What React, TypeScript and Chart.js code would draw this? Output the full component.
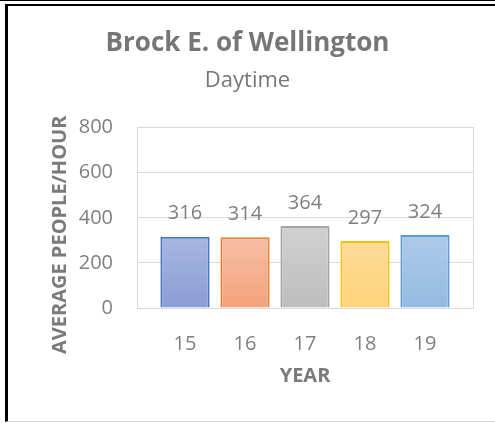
import React, { useEffect, useRef } from "react";
import { Chart, registerables } from "chart.js";

Chart.register(...registerables);

const TITLE = "Brock E. of Wellington";
const SUBTITLE = "Daytime";
const YEARS = ["15", "16", "17", "18", "19"];
const VALUES = [316, 314, 364, 297, 324];
const BORDER_COLORS = ["#4472C4", "#ED7D31", "#A5A5A5", "#FFC000", "#5B9BD5"];
const FILL_TOP = ["#A7B6E1", "#F6BEA4", "#D1D1D1", "#FFDB97", "#AECAE9"];
const FILL_BOTTOM = ["#8A9ED6", "#F4A27C", "#BDBDBD", "#FFD37A", "#95BAE2"];
const Y_TICKS = [0, 200, 400, 600, 800];
const Y_TITLE = "AVERAGE PEOPLE/HOUR";
const X_TITLE = "YEAR";

const FONT = "'Open Sans', sans-serif";
const TEXT = "#7F7F7F";
const TITLE_COLOR = "#767676";
const GRID = "#D9D9D9";

const dataLabels = {
  id: "dataLabels",
  afterDatasetsDraw(chart: any) {
    const ctx = chart.ctx;
    const meta = chart.getDatasetMeta(0);
    ctx.save();
    ctx.font = `20px ${FONT}`;
    ctx.fillStyle = TEXT;
    ctx.textAlign = "center";
    ctx.textBaseline = "middle";
    meta.data.forEach((el: any, i: number) => {
      ctx.fillText(String(VALUES[i]), el.x, el.y - 23);
    });
    ctx.restore();
  },
};

const yTitle = {
  id: "yTitle",
  afterDraw(chart: any) {
    const ctx = chart.ctx;
    const area = chart.chartArea;
    ctx.save();
    ctx.font = `bold 20px ${FONT}`;
    ctx.fillStyle = "#7A7A7A";
    ctx.textAlign = "center";
    ctx.textBaseline = "middle";
    ctx.translate(area.left - 77, (area.top + area.bottom) / 2 + 17);
    ctx.rotate(-Math.PI / 2);
    ctx.fillText(Y_TITLE, 0, 0);
    ctx.restore();
  },
};

export default function App() {
  const ref = useRef<HTMLCanvasElement | null>(null);

  useEffect(() => {
    if (!ref.current) return;
    const chart = new Chart(ref.current, {
      type: "bar",
      data: {
        datasets: [
          {
            data: VALUES.map((v, i) => ({ x: i, y: v })),
            borderColor: BORDER_COLORS,
            borderWidth: 2,
            borderSkipped: "bottom",
            barPercentage: 0.82,
            categoryPercentage: 1,
            backgroundColor: (c: any) => {
              const chart = c.chart;
              const i = c.dataIndex;
              const area = chart.chartArea;
              if (!area || i === undefined) return FILL_BOTTOM[i || 0];
              const yTop = chart.scales.y.getPixelForValue(VALUES[i]);
              const g = chart.ctx.createLinearGradient(0, yTop, 0, area.bottom);
              g.addColorStop(0, FILL_TOP[i]);
              g.addColorStop(1, FILL_BOTTOM[i]);
              return g;
            },
          },
        ],
      },
      options: {
        animation: false,
        responsive: false,
        maintainAspectRatio: false,
        layout: { padding: { top: 0, left: 0, right: 0, bottom: 0 } },
        plugins: {
          legend: { display: false },
          tooltip: { enabled: false },
          title: {
            display: true,
            text: TITLE,
            color: TITLE_COLOR,
            font: { family: FONT, size: 26, weight: "bold" },
            padding: { top: 28, bottom: 0 },
          },
          subtitle: {
            display: true,
            text: SUBTITLE,
            color: TITLE_COLOR,
            font: { family: FONT, size: 22 },
            padding: { top: 8, bottom: 34 },
          },
        },
        scales: {
          x: {
            type: "linear",
            offset: false,
            min: -0.8,
            max: 4.8,
            afterBuildTicks: (axis: any) => {
              axis.ticks = YEARS.map((_, i) => ({ value: i }));
            },
            afterFit: (axis: any) => {
              axis.height = 115;
            },
            grid: { display: false, drawTicks: false },
            border: { display: false },
            ticks: {
              color: TEXT,
              font: { family: FONT, size: 20 },
              padding: 24,
              autoSkip: false,
              maxRotation: 0,
              callback: (v: any) => YEARS[v] ?? "",
            },
            title: {
              display: true,
              text: X_TITLE,
              color: "#7A7A7A",
              font: { family: FONT, size: 20, weight: "bold" },
              padding: { top: 0, bottom: 35 },
            },
          },
          y: {
            min: 0,
            max: 800,
            afterBuildTicks: (axis: any) => {
              axis.ticks = Y_TICKS.map((v) => ({ value: v }));
            },
            afterFit: (axis: any) => {
              axis.width = 137;
            },
            grid: { color: GRID, lineWidth: 1, drawTicks: false },
            border: { display: true, color: GRID, width: 1 },
            ticks: {
              color: TEXT,
              font: { family: FONT, size: 20 },
              padding: 24,
            },
          },
          y2: {
            position: "right",
            min: 0,
            max: 800,
            afterFit: (axis: any) => {
              axis.width = 22;
            },
            grid: { display: false, drawTicks: false },
            border: { display: true, color: GRID, width: 1 },
            ticks: { display: false },
          },
        },
      },
      plugins: [dataLabels, yTitle],
    });
    return () => chart.destroy();
  }, []);

  return (
    <div
      style={{
        position: "fixed",
        left: 0,
        top: 0,
        width: 495,
        height: 423,
        overflow: "hidden",
        background: "#fff",
      }}
    >
      <div
        style={{
          position: "absolute",
          left: 0,
          top: 0,
          width: 495,
          height: 1,
          background: "#000",
        }}
      />
      <div
        style={{
          position: "absolute",
          left: 5,
          top: 4,
          width: 600,
          height: 415,
          borderTop: "2px solid #000",
          borderLeft: "3px solid #000",
          borderBottom: "1px solid #D9D9D9",
        }}
      />
      <canvas
        ref={ref}
        width={495}
        height={423}
        style={{ position: "absolute", left: 0, top: 0, width: 495, height: 423 }}
      />
    </div>
  );
}
